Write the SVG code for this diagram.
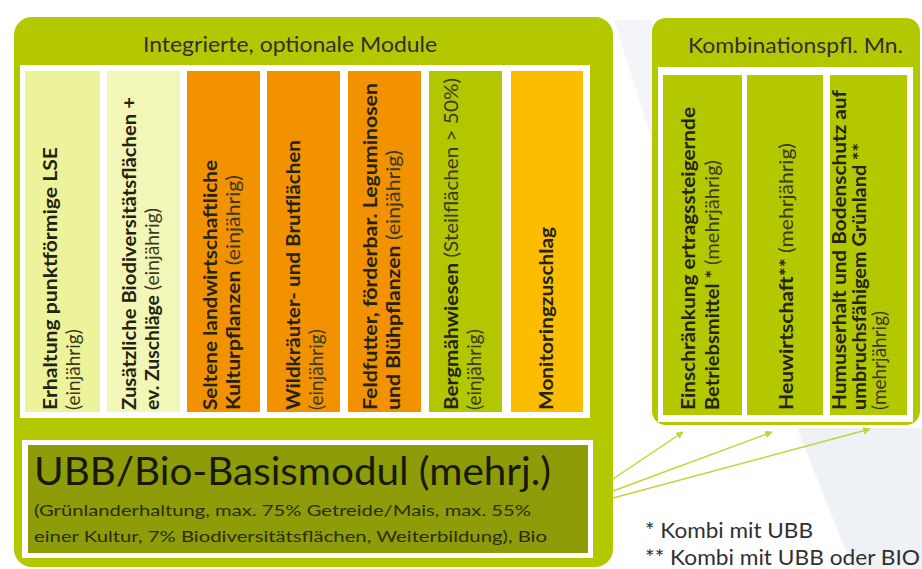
<svg xmlns="http://www.w3.org/2000/svg" width="922" height="569" viewBox="0 0 922 569">
<style>
text{font-family:Lato,"Liberation Sans",sans-serif;}
.b{font-weight:700;fill:#23230f;}
.r{font-weight:400;fill:#3a3a22;}
.col{font-size:19px;}
.hd{font-size:22px;fill:#303030;}
.panel{fill:#b4c800;}
.white{fill:#ffffff;}
.pale1{fill:#edf39b;}
.pale2{fill:#f2f6b6;}
.orange{fill:#f29200;}
.green{fill:#b2c700;}
.amber{fill:#fcbc00;}
.basis{fill:#8d9c08;}
.conn{stroke:#c3d33a;stroke-width:1.5;fill:none;}
.fn{font-size:22px;fill:#303030;}
</style>
<defs>
<marker id="ah" viewBox="0 0 10 10" refX="9" refY="5" markerWidth="5" markerHeight="5" orient="auto">
<path d="M0,0 L10,5 L0,10 z" fill="#c3d33a"/>
</marker>
</defs>
<rect width="922" height="569" fill="#ffffff"/>
<g id="background">
<polygon points="797,428 922,428 922,569 853,569" fill="#eef1f6"/>
<polygon points="614,20 652,20 652,140" fill="#f3f5f8"/>
</g>

<g id="main-panel">
<rect class="panel" x="14" y="17" width="599" height="550" rx="18"/>
<text class="hd" x="143" y="52" textLength="294" lengthAdjust="spacingAndGlyphs">Integrierte, optionale Module</text>
<rect class="white" x="20" y="65" width="570" height="353"/>
</g>

<g id="m1">
<rect class="pale1" x="25" y="71" width="75" height="341"/>
<text class="col b" transform="translate(57,410) rotate(-90)" textLength="263" lengthAdjust="spacingAndGlyphs">Erhaltung punktförmige LSE</text>
<text class="col r" transform="translate(80,410) rotate(-90)">(einjährig)</text>
</g>
<g id="m2">
<rect class="pale2" x="107" y="71" width="73" height="341"/>
<text class="col b" transform="translate(136,410) rotate(-90)" textLength="313" lengthAdjust="spacingAndGlyphs">Zusätzliche Biodiversitätsflächen +</text>
<text class="col" transform="translate(159,410) rotate(-90)" textLength="202" lengthAdjust="spacingAndGlyphs"><tspan class="b">ev. Zuschläge</tspan><tspan class="r"> (einjährig)</tspan></text>
</g>
<g id="m3">
<rect class="orange" x="187" y="71" width="73" height="341"/>
<text class="col b" transform="translate(217,410) rotate(-90)" textLength="250" lengthAdjust="spacingAndGlyphs">Seltene landwirtschaftliche</text>
<text class="col" transform="translate(240,410) rotate(-90)" textLength="235" lengthAdjust="spacingAndGlyphs"><tspan class="b">Kulturpflanzen</tspan><tspan class="r"> (einjährig)</tspan></text>
</g>
<g id="m4">
<rect class="orange" x="267" y="71" width="73" height="341"/>
<text class="col b" transform="translate(300,410) rotate(-90)" textLength="270" lengthAdjust="spacingAndGlyphs">Wildkräuter- und Brutflächen</text>
<text class="col r" transform="translate(323,410) rotate(-90)">(einjährig)</text>
</g>
<g id="m5">
<rect class="orange" x="348" y="71" width="73" height="341"/>
<text class="col b" transform="translate(377,410) rotate(-90)" textLength="327" lengthAdjust="spacingAndGlyphs">Feldfutter, förderbar. Leguminosen</text>
<text class="col" transform="translate(400,410) rotate(-90)" textLength="260" lengthAdjust="spacingAndGlyphs"><tspan class="b">und Blühpflanzen</tspan><tspan class="r"> (einjährig)</tspan></text>
</g>
<g id="m6">
<rect class="green" x="429" y="71" width="73" height="341"/>
<text class="col" transform="translate(458,410) rotate(-90)" textLength="332" lengthAdjust="spacingAndGlyphs"><tspan class="b">Bergmähwiesen</tspan><tspan class="r"> (Steilflächen &gt; 50%)</tspan></text>
<text class="col r" transform="translate(481,410) rotate(-90)">(einjährig)</text>
</g>
<g id="m7">
<rect class="amber" x="511" y="71" width="72" height="341"/>
<text class="col b" transform="translate(553,410) rotate(-90)" textLength="183" lengthAdjust="spacingAndGlyphs">Monitoringzuschlag</text>
</g>

<g id="basis">
<rect class="white" x="22" y="440" width="571" height="118"/>
<rect class="basis" x="28" y="445" width="560" height="108"/>
<text x="34" y="485" font-size="38" fill="#171a00" textLength="517" lengthAdjust="spacingAndGlyphs">UBB/Bio-Basismodul (mehrj.)</text>
<text x="34" y="516" font-size="16" fill="#2b2e00" textLength="497" lengthAdjust="spacingAndGlyphs">(Grünlanderhaltung, max. 75% Getreide/Mais, max. 55%</text>
<text x="34" y="542" font-size="16" fill="#2b2e00" textLength="513" lengthAdjust="spacingAndGlyphs">einer Kultur, 7% Biodiversitätsflächen, Weiterbildung), Bio</text>
</g>

<g id="kombi-panel">
<rect class="panel" x="652" y="18" width="268" height="407" rx="14"/>
<text class="hd" x="688" y="53" textLength="215" lengthAdjust="spacingAndGlyphs">Kombinationspfl. Mn.</text>
<rect class="white" x="658" y="67" width="255" height="355"/>
</g>
<g id="k1">
<rect class="panel" x="663" y="75" width="79" height="340"/>
<text class="col b" transform="translate(695,410) rotate(-90)" textLength="303" lengthAdjust="spacingAndGlyphs">Einschränkung ertragssteigernde</text>
<text class="col" transform="translate(719,410) rotate(-90)" textLength="250" lengthAdjust="spacingAndGlyphs"><tspan class="b">Betriebsmittel *</tspan><tspan class="r"> (mehrjährig)</tspan></text>
</g>
<g id="k2">
<rect class="panel" x="747" y="75" width="76" height="340"/>
<text class="col" transform="translate(793,410) rotate(-90)" textLength="267" lengthAdjust="spacingAndGlyphs"><tspan class="b">Heuwirtschaft**</tspan><tspan class="r"> (mehrjährig)</tspan></text>
</g>
<g id="k3">
<rect class="panel" x="830" y="75" width="77" height="340"/>
<text class="col b" transform="translate(846,410) rotate(-90)" textLength="320" lengthAdjust="spacingAndGlyphs">Humuserhalt und Bodenschutz auf</text>
<text class="col b" transform="translate(866,410) rotate(-90)" textLength="267" lengthAdjust="spacingAndGlyphs">umbruchsfähigem Grünland **</text>
<text class="col r" transform="translate(886,410) rotate(-90)">(mehrjährig)</text>
</g>

<g id="connectors">
<line class="conn" x1="613" y1="479" x2="683" y2="432" marker-end="url(#ah)"/>
<line class="conn" x1="613" y1="491" x2="772" y2="432" marker-end="url(#ah)"/>
<line class="conn" x1="613" y1="498" x2="870" y2="429" marker-end="url(#ah)"/>
</g>

<g id="footnotes">
<text class="fn" x="645" y="538" textLength="168" lengthAdjust="spacingAndGlyphs">* Kombi mit UBB</text>
<text class="fn" x="645" y="565" textLength="275" lengthAdjust="spacingAndGlyphs">** Kombi mit UBB oder BIO</text>
</g>
</svg>
